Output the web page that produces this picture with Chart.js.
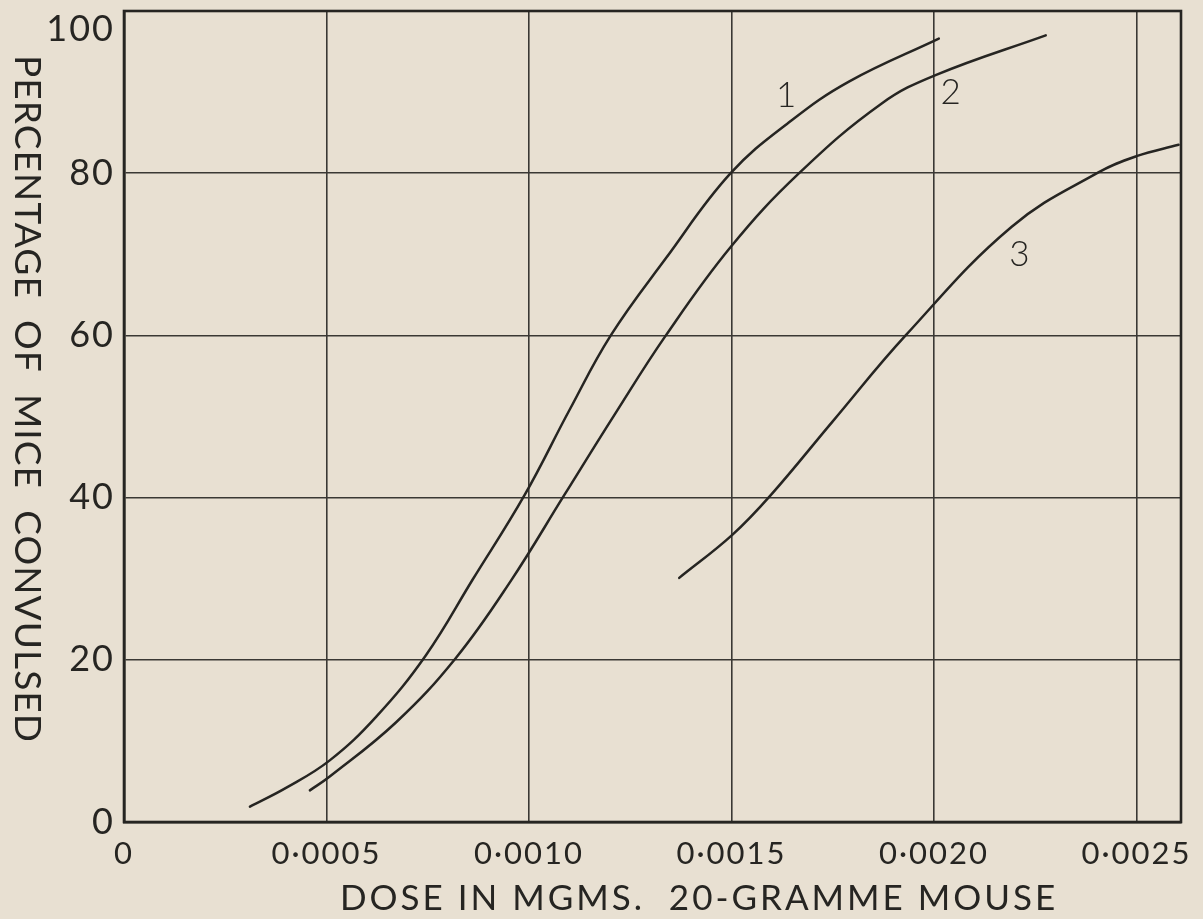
<!DOCTYPE html>
<html>
<head>
<meta charset="utf-8">
<script src="https://cdn.jsdelivr.net/npm/chart.js@4.4.1/dist/chart.umd.min.js"></script>
<style>
  html, body { margin: 0; padding: 0; background: #e8e0d2; }
  #wrap { width: 1203px; height: 919px; position: relative; }
</style>
</head>
<body>
<div id="wrap"><canvas id="chart"></canvas></div>
<script>
// values (dose in mg, percentage convulsed)
const dose1 = [0.000311, 0.0004, 0.000508, 0.000623, 0.000746, 0.000861, 0.000989, 0.0011, 0.001202, 0.001338, 0.001498, 0.001648, 0.00179, 0.002012];
const pct1  = [1.9, 4.2, 7.6, 13.0, 20.6, 29.9, 40.3, 50.8, 60.0, 69.5, 80.0, 86.5, 91.3, 96.6];

const dose2 = [0.000459, 0.000508, 0.000672, 0.000819, 0.000956, 0.001087, 0.001211, 0.001338, 0.001498, 0.001667, 0.001871, 0.002004, 0.002276];
const pct2  = [3.9, 5.6, 12.3, 20.2, 29.8, 40.3, 50.2, 60.0, 70.9, 80.0, 88.6, 92.1, 97.0];

const dose3 = [0.001371, 0.001502, 0.001597, 0.00175, 0.00193, 0.002192, 0.002406, 0.0025, 0.002604];
const pct3  = [30.1, 35.4, 40.3, 49.4, 60.0, 73.4, 80.1, 82.1, 83.5];

const xTicks = [0, 0.0005, 0.0010, 0.0015, 0.0020, 0.0025];
const yTicks = [0, 20, 40, 60, 80, 100];

const curveNames = ['1', '2', '3'];
const curveNameX = [0.001635, 0.002041, 0.002211];
const curveNameY = [89.6, 89.9, 69.9];

const xTitle = 'DOSE IN MGMS.  20-GRAMME MOUSE';
const yTitle = 'PERCENTAGE  OF  MICE  CONVULSED';

const PAPER = '#e8e0d2';
const INK = '#262522';
const GRID = '#3a3834';
const FONT = 'Lato, "Open Sans", sans-serif';

function pts(xs, ys) {
  return xs.map((x, i) => ({ x: x, y: ys[i] }));
}

function doseLabel(v) {
  if (v === 0) return '0';
  return '0·' + String(Math.round(v * 10000)).padStart(4, '0');
}

// stretch a text to a given width with letter spacing
function fitText(ctx, text, width) {
  ctx.letterSpacing = '0px';
  const w = ctx.measureText(text).width;
  const sp = (width - w) / (text.length - 1);
  ctx.letterSpacing = sp.toFixed(2) + 'px';
}

const paperPlugin = {
  id: 'paper',
  beforeDraw(chart) {
    const ctx = chart.ctx;
    ctx.save();
    ctx.fillStyle = PAPER;
    ctx.fillRect(0, 0, chart.width, chart.height);
    ctx.restore();
    // wider spacing for the tick numbers
    ctx.letterSpacing = '2px';
  },
  beforeDatasetsDraw(chart) {
    const { ctx, chartArea: a } = chart;
    ctx.save();
    ctx.strokeStyle = INK;
    ctx.lineWidth = 2.6;
    ctx.strokeRect(a.left, a.top, a.right - a.left, a.bottom - a.top);
    ctx.restore();
  },
  afterDraw(chart) {
    const { ctx, scales } = chart;
    ctx.letterSpacing = '0px';
    ctx.save();
    ctx.fillStyle = INK;

    // x title
    ctx.font = '400 35px ' + FONT;
    ctx.textAlign = 'left';
    ctx.textBaseline = 'middle';
    fitText(ctx, xTitle, 715);
    ctx.fillText(xTitle, 340, 899);

    // y title, reading top to bottom
    ctx.save();
    ctx.font = '400 37px ' + FONT;
    ctx.translate(27, 55);
    ctx.rotate(Math.PI / 2);
    fitText(ctx, yTitle, 687);
    ctx.fillText(yTitle, 0, 0);
    ctx.restore();

    // curve numbers
    ctx.letterSpacing = '0px';
    ctx.font = '300 35px ' + FONT;
    ctx.textAlign = 'center';
    curveNames.forEach((n, i) => {
      const px = scales.x.getPixelForValue(curveNameX[i]);
      const py = scales.y.getPixelForValue(curveNameY[i]);
      ctx.fillText(n, px, py);
    });
    ctx.restore();
  }
};

const lineStyle = {
  showLine: true,
  borderColor: INK,
  borderWidth: 2.5,
  pointRadius: 0,
  fill: false,
  tension: 0.4,
  borderCapStyle: 'round'
};

new Chart(document.getElementById('chart'), {
  type: 'scatter',
  data: {
    datasets: [
      Object.assign({ label: '1', data: pts(dose1, pct1) }, lineStyle),
      Object.assign({ label: '2', data: pts(dose2, pct2) }, lineStyle),
      Object.assign({ label: '3', data: pts(dose3, pct3) }, lineStyle)
    ]
  },
  options: {
    responsive: true,
    maintainAspectRatio: false,
    animation: false,
    layout: { padding: { top: 11, right: 22, left: 0, bottom: 0 } },
    plugins: { legend: { display: false }, tooltip: { enabled: false } },
    scales: {
      x: {
        type: 'linear',
        min: 0,
        max: 0.00261,
        afterBuildTicks: s => { s.ticks = xTicks.map(v => ({ value: v })); },
        afterFit: s => { s.height = 97; s.paddingLeft = 0; s.paddingRight = 0; },
        grid: { color: GRID, lineWidth: 1.6, drawTicks: false },
        border: { display: true, color: INK, width: 2.6 },
        ticks: {
          color: INK,
          padding: 13,
          maxRotation: 0,
          autoSkip: false,
          font: { family: FONT, size: 31, weight: '400' },
          callback: v => doseLabel(v)
        }
      },
      y: {
        type: 'linear',
        min: 0,
        max: 100,
        afterBuildTicks: s => { s.ticks = yTicks.map(v => ({ value: v })); },
        afterFit: s => { s.width = 124; s.paddingTop = 0; s.paddingBottom = 0; },
        grid: { color: GRID, lineWidth: 1.6, drawTicks: false },
        border: { display: true, color: INK, width: 2.6 },
        ticks: {
          color: INK,
          padding: 9,
          autoSkip: false,
          font: { family: FONT, size: 36, weight: '400', lineHeight: 1.0 },
          callback: v => (v === 100 ? ['', '100'] : String(v))
        }
      }
    }
  },
  plugins: [paperPlugin]
});
</script>
</body>
</html>
